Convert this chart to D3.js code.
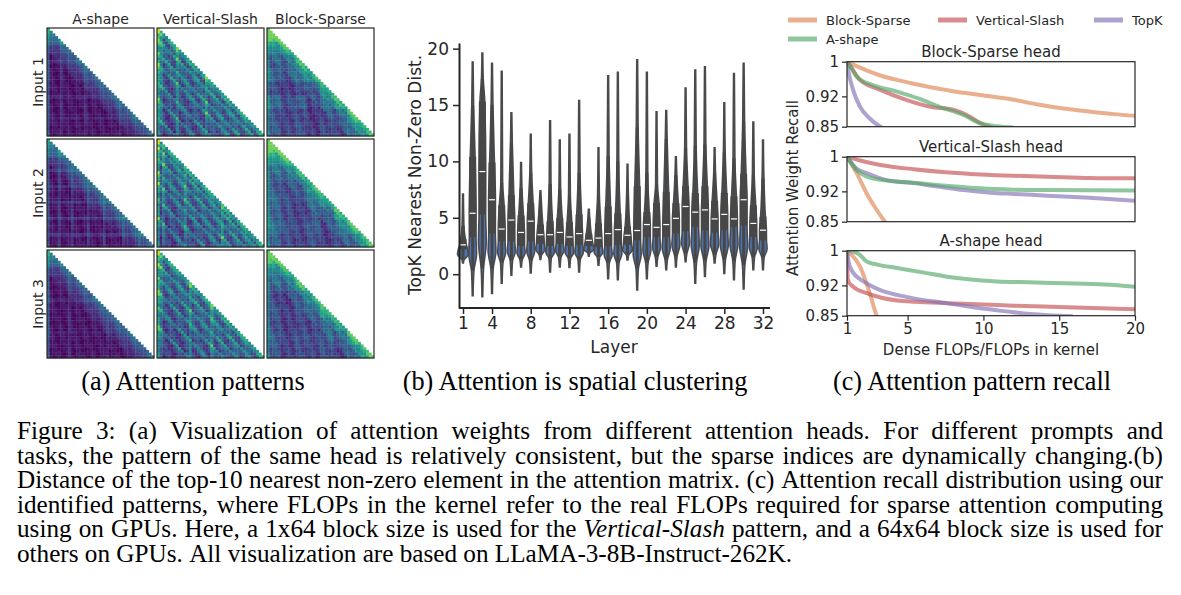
<!DOCTYPE html>
<html>
<head>
<meta charset="utf-8">
<script src="https://cdn.jsdelivr.net/npm/d3@7"></script>
<style>
body { margin: 0; background: #fff; }
svg text { fill: #262626; font-family: "DejaVu Sans", sans-serif; }
svg text.serif { fill: #000; font-family: "Liberation Serif", "Times New Roman", serif; }
</style>
</head>
<body>
<svg id="fig" width="1181" height="595"></svg>
<script>

// ---------- (a) attention patterns ----------
var patterns = ["A-shape", "Vertical-Slash", "Block-Sparse"];
var inputs = ["Input 1", "Input 2", "Input 3"];
// intensity next to the diagonal (by offset)
var aBand = [0.30, 0.25, 0.21, 0.17, 0.14, 0.11, 0.09, 0.07, 0.05];
var aSink = [0.22, 0.18, 0.24];
var aGridCols = [[5, 14, 27], [4, 9, 15, 21, 28, 34], [8, 22]];
var aGridRows = [[12, 25, 33], [6, 11, 17, 23, 29, 35], [18, 30]];
var vsSlash = [[4, 9, 13, 20, 26, 33], [3, 7, 12, 16, 22, 29], [5, 10, 15, 21, 28]];
var vsCols = [[0, 1, 7, 18], [0, 2, 10, 24], [0, 1, 12, 20]];
var bsRow = [[0.50, 0.30, 0.25, 0.35, 0.20, 0.40, 0.25, 0.30],
             [0.45, 0.35, 0.30, 0.25, 0.35, 0.30, 0.40, 0.30],
             [0.40, 0.30, 0.35, 0.20, 0.30, 0.25, 0.35, 0.30]];
var bsCol = [[0.90, 0.50, 0.70, 0.30, 0.60, 0.40, 0.80, 0.50],
             [1.00, 0.60, 0.40, 0.70, 0.30, 0.60, 0.50, 0.70],
             [0.80, 0.40, 0.60, 0.50, 0.70, 0.30, 0.60, 0.80]];
var grain = [0.03, -0.02, 0.06, -0.04, 0.01, 0.05, -0.03, 0.0, 0.04, -0.05, 0.02, -0.01, 0.03];

// ---------- (b) violin stats per layer ----------
var layers = [1,2,3,4,5,6,7,8,9,10,11,12,13,14,15,16,17,18,19,20,21,22,23,24,25,26,27,28,29,30,31,32];
var vMin = [1.0,-1.9,-2.0,-1.7,-0.8,-0.1,0.65,0.1,1.3,0.2,0.65,0.6,0.2,1.6,0.8,-0.4,-0.5,1.25,-1.4,-0.4,0.7,0.4,0.65,1.1,-0.8,-0.2,1.0,0.06,-0.5,-1.3,0.4,0.4];
var wLo  = [1.3,0.3,0.5,0.5,1.0,1.2,1.3,1.2,1.7,1.4,1.5,1.4,1.3,1.9,1.5,1.0,1.0,1.7,0.5,1.0,1.5,1.3,1.6,1.8,1.0,1.2,1.7,1.3,1.2,0.8,1.5,1.5];
var q1   = [2.2,3.3,5.3,3.6,2.9,2.9,2.5,2.9,2.7,2.5,2.7,2.5,2.6,2.5,2.4,2.5,2.6,2.6,3.0,3.3,3.3,3.3,3.6,3.8,4.2,3.9,3.7,3.9,4.2,4.3,3.3,3.0];
var med  = [2.6,5.4,9.1,6.6,4.0,4.8,3.7,4.7,3.5,3.5,3.7,3.3,3.6,3.0,3.2,3.6,3.95,3.45,3.87,4.4,4.15,4.4,4.95,6.0,5.5,5.7,4.9,5.3,4.9,6.6,4.5,3.9];
var q3   = [3.1,10.4,15.3,9.9,6.1,7.0,5.2,6.3,4.4,4.7,5.0,4.6,5.3,3.6,4.5,6.0,5.4,4.2,7.8,5.5,6.3,7.3,6.3,7.8,7.2,7.8,6.5,7.2,6.9,8.9,6.1,5.1];
var wHi  = [4.3,15.0,17.3,15.0,8.1,11.6,7.6,9.0,6.5,8.0,7.5,7.0,9.0,5.0,7.0,10.5,10.0,7.0,13.0,9.0,8.0,12.0,8.8,11.2,11.4,11.5,9.0,10.8,10.3,13.6,8.8,8.5];
var vMax = [7.1,18.8,19.6,18.7,18.0,14.3,9.9,12.4,7.4,13.6,11.9,12.4,15.4,5.75,11.2,17.6,17.9,9.75,19.0,17.9,14.4,14.5,10.4,16.5,18.1,18.4,11.2,15.2,17.8,18.7,13.5,11.9];
var halfW = [5.5,3.9,3.9,3.9,4.0,4.0,4.1,4.0,4.7,4.3,4.3,4.4,4.2,5.3,4.4,4.0,4.0,4.9,4.0,4.0,4.0,4.0,4.0,4.0,4.0,4.0,4.1,4.0,4.0,4.0,4.1,4.1];
var layerTicks = [1, 4, 8, 12, 16, 20, 24, 28, 32];
var distTicks = [0, 5, 10, 15, 20];

// ---------- (c) recall curves [FLOPs ratio, recall] ----------
var bsHeadBlock = [[1,1],[1.5,.992],[2.5,.977],[3.3,.967],[4.3,.958],[5.4,.949],[6.5,.941],[8,.932],[9.8,.923],[12,.912],[13.5,.902],[15.3,.892],[17,.885],[18.6,.879],[20,.875]];
var bsHeadVS    = [[1,1],[1.3,.985],[1.86,.958],[3.2,.935],[4.9,.912],[6.5,.896],[8,.889],[9.1,.873],[9.8,.858],[10.5,.849]];
var bsHeadTopK  = [[1,1],[1.1,.977],[1.4,.935],[1.86,.896],[2.5,.869],[3.2,.85],[3.4,.846]];
var bsHeadA     = [[1,1],[1.3,.985],[1.64,.965],[2.7,.946],[4.3,.931],[5.8,.914],[7.1,.896],[8.7,.877],[9.8,.858],[10.9,.851],[12,.848]];
var vsHeadBlock = [[1,1],[1.64,.962],[2.3,.915],[2.96,.877],[3.5,.85],[3.6,.845]];
var vsHeadVS    = [[1,1],[2,.99],[3.2,.981],[5.4,.971],[7.5,.964],[9.8,.959],[12,.956],[14.2,.954],[17,.951],[20,.950]];
var vsHeadTopK  = [[1,1],[1.64,.972],[2.3,.962],[3.6,.946],[5.4,.939],[7,.931],[8.7,.923],[10.5,.917],[12,.914],[14.2,.910],[17,.905],[20,.898]];
var vsHeadA     = [[1,1],[1.64,.969],[2.3,.954],[3.6,.945],[5.4,.940],[7.5,.933],[9.8,.927],[12,.924],[14.2,.923],[20,.922]];
var aHeadBlock  = [[1,1],[1.86,.963],[2.5,.902],[2.96,.85],[3.1,.84]];
var aHeadVS     = [[1,1],[1.05,.935],[1.1,.929],[1.4,.917],[2.3,.902],[3.2,.892],[4.3,.885],[5.5,.882],[7.6,.879],[10,.876],[12,.873],[15,.870],[20,.865]];
var aHeadTopK   = [[1,1],[1.1,.975],[1.3,.955],[2.1,.929],[3.2,.909],[4.3,.898],[5.4,.890],[7.6,.879],[9.8,.867],[11.5,.86],[13.1,.854],[15.9,.849]];
var aHeadA      = [[1,1],[1.5,.997],[1.86,.99],[2.3,.975],[3,.968],[4.3,.96],[6,.95],[7.6,.94],[9,.934],[10.9,.929],[13,.927],[15.3,.925],[18,.922],[20,.917]];
var methods = ["Block-Sparse", "Vertical-Slash", "TopK", "A-shape"];
var methodColors = ["#dd8452", "#c44e52", "#8172b3", "#55a868"];
var heads = ["Block-Sparse head", "Vertical-Slash head", "A-shape head"];
var headSeries = [[bsHeadBlock, bsHeadVS, bsHeadTopK, bsHeadA],
                  [vsHeadBlock, vsHeadVS, vsHeadTopK, vsHeadA],
                  [aHeadBlock, aHeadVS, aHeadTopK, aHeadA]];
var recallTicks = [0.85, 0.92, 1];
var flopTicks = [1, 5, 10, 15, 20];

// ---------- captions ----------
var subCaptions = ["(a) Attention patterns", "(b) Attention is spatial clustering", "(c) Attention pattern recall"];
var captionLines = [
  "Figure 3: (a) Visualization of attention weights from different attention heads. For different prompts and",
  "tasks, the pattern of the same head is relatively consistent, but the sparse indices are dynamically changing.(b)",
  "Distance of the top-10 nearest non-zero element in the attention matrix. (c) Attention recall distribution using our",
  "identified patterns, where FLOPs in the kernel refer to the real FLOPs required for sparse attention computing",
  "using on GPUs. Here, a 1x64 block size is used for the *Vertical-Slash* pattern, and a 64x64 block size is used for",
  "others on GPUs. All visualization are based on LLaMA-3-8B-Instruct-262K."
];

var svg = d3.select("#fig");
svg.append("rect").attr("width", 1181).attr("height", 595).attr("fill", "#fff");

// ===== panel (a) =====
var hmX = [47, 157, 267], hmY = [28, 139, 250], hmW = 107, hmH = 108, N = 40;

function cellValue(p, k, i, j) {
	var d = i - j, v;
	var gr = grain[(i * 5 + j * 11) % grain.length];
	if (p == 0) {
		v = 0.04 + gr * 0.8;
		if (d < aBand.length) v += aBand[d];
		if (j == 0) v += aSink[k];
		if (i < 6) v += 0.08;
		var gs = k == 1 ? 0.12 : 0.07;
		if (aGridCols[k].indexOf(j) >= 0) v += gs;
		if (aGridRows[k].indexOf(i) >= 0) v += gs * 0.8;
	} else if (p == 1) {
		v = 0.14 + gr * 2 + 0.14 * (1 - d / N);
		if (d < 2) v += 0.25;
		if (vsSlash[k].indexOf(d) >= 0) v += 0.26;
		if (vsSlash[k].indexOf(d - 1) >= 0) v += 0.1;
		if (vsCols[k].indexOf(j) >= 0) v += 0.18;
		if (j == 0) v += 0.15;
	} else {
		var bi = Math.floor(i / 5), bj = Math.floor(j / 5);
		v = 0.08 + gr * 1.5 + bsRow[k][bi] * bsCol[k][bj] * 0.7;
		if (d < 2) v += 0.38; else if (d < 5) v += 0.22; else if (d < 10) v += 0.1;
		if (bi == bj) v += 0.08;
		if (i < 8) v += 0.05;
		if (j == 0) v += 0.2;
		v = Math.min(v, 0.78);
	}
	return Math.max(0, Math.min(1, v));
}

patterns.forEach(function(p, c) {
	svg.append("text").attr("x", hmX[c] + hmW / 2).attr("y", 24)
		.attr("text-anchor", "middle").style("font-size", "14px").text(p);
	inputs.forEach(function(inp, r) {
		var g = svg.append("g").attr("transform", "translate(" + hmX[c] + "," + hmY[r] + ")");
		var sx = d3.scaleBand().domain(d3.range(N)).range([0, hmW]);
		var sy = d3.scaleBand().domain(d3.range(N)).range([0, hmH]);
		var cells = [];
		for (var i = 0; i < N; i++)
			for (var j = 0; j <= i; j++)
				cells.push({i: i, j: j, v: cellValue(c, r, i, j)});
		g.selectAll("rect.cell").data(cells).enter().append("rect")
			.attr("x", function(d) { return sx(d.j); })
			.attr("y", function(d) { return sy(d.i); })
			.attr("width", sx.bandwidth() + 0.3)
			.attr("height", sy.bandwidth() + 0.3)
			.attr("fill", function(d) { return d3.interpolateViridis(d.v); });
		g.append("rect").attr("width", hmW).attr("height", hmH)
			.attr("fill", "none").attr("stroke", "#262626").attr("stroke-width", 1.2);
		if (c == 0) {
			svg.append("text").attr("transform", "translate(43," + (hmY[r] + hmH / 2) + ") rotate(-90)")
				.attr("text-anchor", "middle").style("font-size", "14px").text(inp);
		}
	});
});

// ===== panel (b) =====
var xB = d3.scaleLinear().domain([1, 32]).range([463, 763]);
var yB = d3.scaleLinear().domain([-3, 20.5]).range([308, 43]);
var violinArea = d3.area().curve(d3.curveMonotoneY)
	.y(function(d) { return yB(d.v); });

layers.forEach(function(L, k) {
	var cx = xB(L), w = halfW[k];
	var prof = [
		{v: vMax[k], w: 0.4}, {v: wHi[k], w: 0.9}, {v: q3[k], w: 2.4},
		{v: med[k], w: Math.min(w, 3.4)}, {v: q1[k], w: w * 0.85}, {v: (wLo[k] + q1[k]) / 2, w: w},
		{v: wLo[k], w: 1.2}, {v: vMin[k], w: 0.4}
	];
	violinArea.x0(function(d) { return cx - d.w; }).x1(function(d) { return cx + d.w; });
	svg.append("path").attr("d", violinArea(prof))
		.attr("fill", "#4c72b0").attr("stroke", "#4a4a4a").attr("stroke-width", 1.6);
	svg.append("line").attr("x1", cx).attr("x2", cx)
		.attr("y1", yB(wLo[k])).attr("y2", yB(wHi[k]))
		.attr("stroke", "#474747").attr("stroke-width", 3);
	svg.append("rect").attr("x", cx - 3.5).attr("width", 7)
		.attr("y", yB(q3[k])).attr("height", yB(q1[k]) - yB(q3[k]))
		.attr("fill", "#474747");
	svg.append("line").attr("x1", cx - 3).attr("x2", cx + 3)
		.attr("y1", yB(med[k])).attr("y2", yB(med[k]))
		.attr("stroke", "#fff").attr("stroke-width", 1.2);
});

var yAxisB = svg.append("g").attr("transform", "translate(459,0)")
	.call(d3.axisLeft(yB).tickValues(distTicks).tickSize(6).tickPadding(4).tickSizeOuter(0));
var xAxisB = svg.append("g").attr("transform", "translate(0,308)")
	.call(d3.axisBottom(xB).tickValues(layerTicks).tickSize(6).tickPadding(3).tickSizeOuter(0));
xAxisB.select(".domain").attr("d", "M459,0H770");
[yAxisB, xAxisB].forEach(function(a) {
	a.select(".domain").attr("stroke", "#262626").attr("stroke-width", 2);
	a.selectAll(".tick line").attr("stroke", "#262626").attr("stroke-width", 1.5);
	a.selectAll(".tick text").style("font-size", "17px").style("font-family", "DejaVu Sans").attr("fill", "#262626");
});
svg.append("text").attr("transform", "translate(421,175) rotate(-90)")
	.attr("text-anchor", "middle").style("font-size", "17px").text("TopK Nearest Non-Zero Dist.");
svg.append("text").attr("x", 614).attr("y", 353)
	.attr("text-anchor", "middle").style("font-size", "17px").text("Layer");

// ===== panel (c) =====
var xC = d3.scaleLinear().domain([1, 20]).range([847, 1135]);
var subTop = [61.7, 156.7, 250.7], subH = 65;

heads.forEach(function(h, s) {
	var yC = d3.scaleLinear().domain([0.85, 1]).range([subTop[s] + subH, subTop[s]]);
	var clipId = "clip" + s;
	svg.append("clipPath").attr("id", clipId).append("rect")
		.attr("x", 847).attr("y", subTop[s]).attr("width", 288).attr("height", subH);
	var line = d3.line().curve(d3.curveMonotoneX)
		.x(function(d) { return xC(d[0]); }).y(function(d) { return yC(d[1]); });
	headSeries[s].forEach(function(ser, m) {
		svg.append("path").attr("d", line(ser)).attr("clip-path", "url(#" + clipId + ")")
			.attr("fill", "none").attr("stroke", methodColors[m])
			.attr("stroke-width", 4).attr("stroke-opacity", 0.65)
			.attr("stroke-linejoin", "round");
	});
	svg.append("rect").attr("x", 847).attr("y", subTop[s]).attr("width", 288).attr("height", subH)
		.attr("fill", "none").attr("stroke", "#262626").attr("stroke-width", 1.2);
	var ya = svg.append("g").attr("transform", "translate(847,0)")
		.call(d3.axisLeft(yC).tickValues(recallTicks).tickFormat(function(d) { return d == 1 ? "1" : d3.format(".2f")(d); })
			.tickSize(5).tickPadding(3).tickSizeOuter(0));
	ya.select(".domain").remove();
	ya.selectAll(".tick line").attr("stroke", "#262626").attr("stroke-width", 1.2);
	ya.selectAll(".tick text").style("font-size", "15px").style("font-family", "DejaVu Sans").attr("fill", "#262626");
	svg.append("text").attr("x", 991).attr("y", subTop[s] - 5)
		.attr("text-anchor", "middle").style("font-size", "15px").text(h);
	if (s == 2) {
		var xa = svg.append("g").attr("transform", "translate(0," + (subTop[s] + subH) + ")")
			.call(d3.axisBottom(xC).tickValues(flopTicks).tickSize(5).tickPadding(3).tickSizeOuter(0));
		xa.select(".domain").remove();
		xa.selectAll(".tick line").attr("stroke", "#262626").attr("stroke-width", 1.2);
		xa.selectAll(".tick text").style("font-size", "15px").style("font-family", "DejaVu Sans").attr("fill", "#262626");
	}
});
svg.append("text").attr("transform", "translate(798,188) rotate(-90)")
	.attr("text-anchor", "middle").style("font-size", "15px").text("Attention Weight Recall");
svg.append("text").attr("x", 991).attr("y", 355)
	.attr("text-anchor", "middle").style("font-size", "15px").text("Dense FLOPs/FLOPs in kernel");

// legend
var legPos = [[788, 20], [938, 20], [1094, 20], [788, 39]];
methods.forEach(function(m, i) {
	var p = legPos[i];
	svg.append("line").attr("x1", p[0]).attr("x2", p[0] + 29).attr("y1", p[1]).attr("y2", p[1])
		.attr("stroke", methodColors[i]).attr("stroke-width", 5).attr("stroke-opacity", 0.65);
	svg.append("text").attr("x", p[0] + 38).attr("y", p[1] + 5).style("font-size", "13px").text(m);
});

// ===== captions =====
function fitSize(str, target, base) {
	var t = svg.append("text").attr("class", "serif").style("font-size", base + "px").text(str);
	var len = t.node().getComputedTextLength();
	t.remove();
	return base * target / len;
}
var subCx = [193, 575, 972];
var subSize = fitSize(subCaptions[1], 345, 22);
subCaptions.forEach(function(s, i) {
	svg.append("text").attr("class", "serif").attr("x", subCx[i]).attr("y", 390)
		.attr("text-anchor", "middle").style("font-size", subSize + "px").text(s);
});

// the densest line (3rd) must fit between the margins
var capX0 = 17, capX1 = 1163, capY = [439, 463.5, 488, 512.5, 537, 561.5];
var capSize = Math.min(fitSize(captionLines[2], capX1 - capX0 - 6, 22), fitSize(captionLines[5].replace(/\*/g, ""), 805, 22));
captionLines.forEach(function(line, li) {
	var words = line.split(" ");
	var nodes = words.map(function(w) {
		return svg.append("text").attr("class", "serif").attr("y", capY[li])
			.style("font-size", capSize + "px")
			.style("font-style", w.indexOf("*") >= 0 ? "italic" : null)
			.text(w.replace(/\*/g, ""));
	});
	var widths = nodes.map(function(n) { return n.node().getComputedTextLength(); });
	var last = li == captionLines.length - 1;
	var gap = last ? capSize * 0.25 : (capX1 - capX0 - d3.sum(widths)) / (words.length - 1);
	var x = capX0;
	nodes.forEach(function(n, k) { n.attr("x", x); x += widths[k] + gap; });
});
</script>
</body>
</html>
